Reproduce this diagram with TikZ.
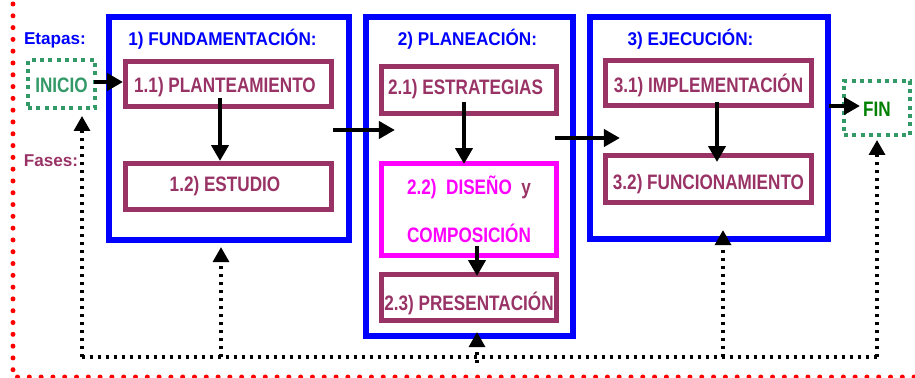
\documentclass[tikz,border=0pt]{standalone}
\usepackage{fontspec}
\setmainfont[FakeStretch=0.82]{Liberation Sans}
\newfontfamily\titulofont[FakeStretch=0.93]{Liberation Sans}
\newfontfamily\rotulofont{Liberation Sans}
\usepackage{xcolor}
\definecolor{etapaAzul}{HTML}{0000FF}
\definecolor{faseMorado}{HTML}{993366}
\definecolor{faseMagenta}{HTML}{FF00FF}
\definecolor{extremoVerde}{HTML}{339966}
\definecolor{finVerde}{HTML}{008000}
\definecolor{marcoRojo}{HTML}{FF0000}
\usetikzlibrary{shapes,arrows.meta,calc}
\newcommand{\letra}{\fontsize{11.9}{14}\selectfont\bfseries}
\tikzset{
    etapa/.style={
        draw=etapaAzul,
        rectangle,
        line width=0.125cm,
        inner sep=0pt
    },
    fase/.style={
        draw=faseMorado,
        rectangle,
        line width=0.09cm,
        inner sep=0pt,
        text=faseMorado,
        align=center,
        text height=1.0em,
        text depth=0pt,
        font=\letra
    },
    extremo/.style={
        draw=extremoVerde,
        rectangle,
        line width=0.08cm,
        dash pattern=on 0.08cm off 0.086cm,
        inner sep=0pt,
        text height=0.96em,
        text depth=0pt,
        font=\letra
    },
    titulo/.style={
        anchor=base,
        inner sep=0pt,
        text=etapaAzul,
        font=\titulofont\fontsize{10.5}{12}\selectfont\bfseries
    },
    rotulo/.style={
        anchor=base,
        inner sep=0pt,
        font=\rotulofont\fontsize{9.75}{12}\selectfont\bfseries
    },
    flecha/.style={
        -{Triangle[length=0.32cm,width=0.34cm]},
        line width=0.09cm,
        color=black
    },
    retro/.style={
        line width=0.066cm,
        dash pattern=on 0.066cm off 0.094cm,
        color=black
    },
    retroflecha/.style={
        retro,
        -{Triangle[length=0.3cm,width=0.32cm]}
    },
    marco/.style={
        draw=marcoRojo,
        line width=0.1cm,
        line cap=round,
        dash pattern=on 0pt off 0.236cm
    }
}
\begin{document}
\begin{tikzpicture}[x=0.02cm, y=-0.02cm]
    \useasboundingbox (0,0) rectangle (915,378);
    % marco rojo
    \draw[marco] (13,4) -- (13,377) -- (915,377);

    % Rotulos
    \node[rotulo, text=etapaAzul] (etapas) at (55,45) {Etapas:};
    \node[rotulo, text=faseMorado] (fases) at (51,167) {Fases:};

    % Inicio y fin
    \node[extremo, minimum width=1.34cm, minimum height=0.96cm, text=extremoVerde] (inicio) at (61.5,84) {INICIO\hspace{0.2cm}};
    \node[extremo, minimum width=1.32cm, minimum height=1.08cm, text=finVerde] (fin) at (877,108) {FIN};

    % Etapas
    \node[etapa, minimum width=4.8cm, minimum height=4.46cm] (etapa1) at (229,128.5) {};
    \node[etapa, minimum width=4.14cm, minimum height=6.38cm] (etapa2) at (469.5,176.5) {};
    \node[etapa, minimum width=4.76cm, minimum height=4.44cm] (etapa3) at (709,128) {};
    \node[titulo] (titulo1) at (222.5,45.4) {1) FUNDAMENTACIÓN:};
    \node[titulo] (titulo2) at (467.5,45.4) {2) PLANEACIÓN:};
    \node[titulo] (titulo3) at (690.5,45.4) {3) EJECUCIÓN:};

    % Fases
    \node[fase, minimum width=4.13cm, minimum height=0.91cm, text height=0.96em] (f11) at (228.5,84) {1.1) PLANTEAMIENTO\hspace{0.14cm}};
    \node[fase, minimum width=4.13cm, minimum height=0.93cm, text height=0.72em, text depth=0.2em] (f12) at (228.5,186.5) {1.2) ESTUDIO\hspace{0.14cm}};
    \node[fase, minimum width=3.51cm, minimum height=0.95cm, text height=0.72em, text depth=0.24em] (f21) at (469,90) {2.1) ESTRATEGIAS\hspace{0.14cm}};
    \node[fase, draw=faseMagenta, text=faseMagenta, minimum width=3.51cm, minimum height=1.85cm, text height=, text depth=] (f22) at (469,209.5)
        {2.2)~~DISEÑO~~\textcolor{faseMorado}{y}\\[13pt]COMPOSICIÓN};
    \node[fase, minimum width=3.51cm, minimum height=0.93cm, text height=1.44em] (f23) at (469,297.5) {2.3) PRESENTACIÓN};
    \node[fase, minimum width=4.13cm, minimum height=0.91cm, text height=1.1em] (f31) at (708.5,83) {3.1) IMPLEMENTACIÓN};
    \node[fase, minimum width=4.13cm, minimum height=0.95cm, text height=1.2em] (f32) at (708.5,179) {3.2) FUNCIONAMIENTO};

    % Flechas
    \draw[flecha] ($(inicio.east)+(-3,-2)$) -- ($(f11.west)+(0,-2)$);
    \draw[flecha] ([xshift=-0.17cm,yshift=0.22cm]f11.south) -- ([xshift=-0.17cm]f12.north);
    \draw[flecha] ([xshift=-0.1cm,yshift=0.28cm]f21.south) -- ([xshift=-0.1cm,yshift=-0.06cm]f22.north);
    \draw[flecha] ([xshift=0.16cm,yshift=0.24cm]f22.south) -- ([xshift=0.16cm,yshift=-0.08cm]f23.north);
    \draw[flecha] ([xshift=0.17cm,yshift=0.12cm]f31.south) -- ([xshift=0.17cm,yshift=-0.18cm]f32.north);
    \draw[flecha] ($(etapa1.east)+(-19,1.5)$) -- ($(etapa2.west |- etapa1.east)+(32,1.5)$);
    \draw[flecha] ($(etapa2.east |- etapa3.west)+(-21,10)$) -- ($(etapa3.west)+(33,10)$);
    \draw[flecha] ($(etapa3.east |- fin.west)+(-2,-2)$) -- ($(fin.west)+(18,-2)$);

    % Retroalimentacion
    \coordinate (r0) at (82,357);
    \coordinate (r1) at (fin.south |- r0);
    \draw[retro] (r0) -- (r1);
    \draw[retroflecha] (r0) -- ($(r0 |- inicio.south)+(0,6)$);
    \draw[retroflecha] ($(etapa1.south |- r0)+(-8,0)$) -- ($(etapa1.south)+(-8,4)$);
    \draw[retroflecha] ($(etapa2.south |- r0)+(7.5,6)$) -- ($(etapa2.south)+(7.5,-7)$);
    \draw[retroflecha] ($(etapa3.south |- r0)+(14,0)$) -- ($(etapa3.south)+(14,-12)$);
    \draw[retroflecha] (r1) -- ($(fin.south)+(0,3)$);
\end{tikzpicture}
\end{document}
